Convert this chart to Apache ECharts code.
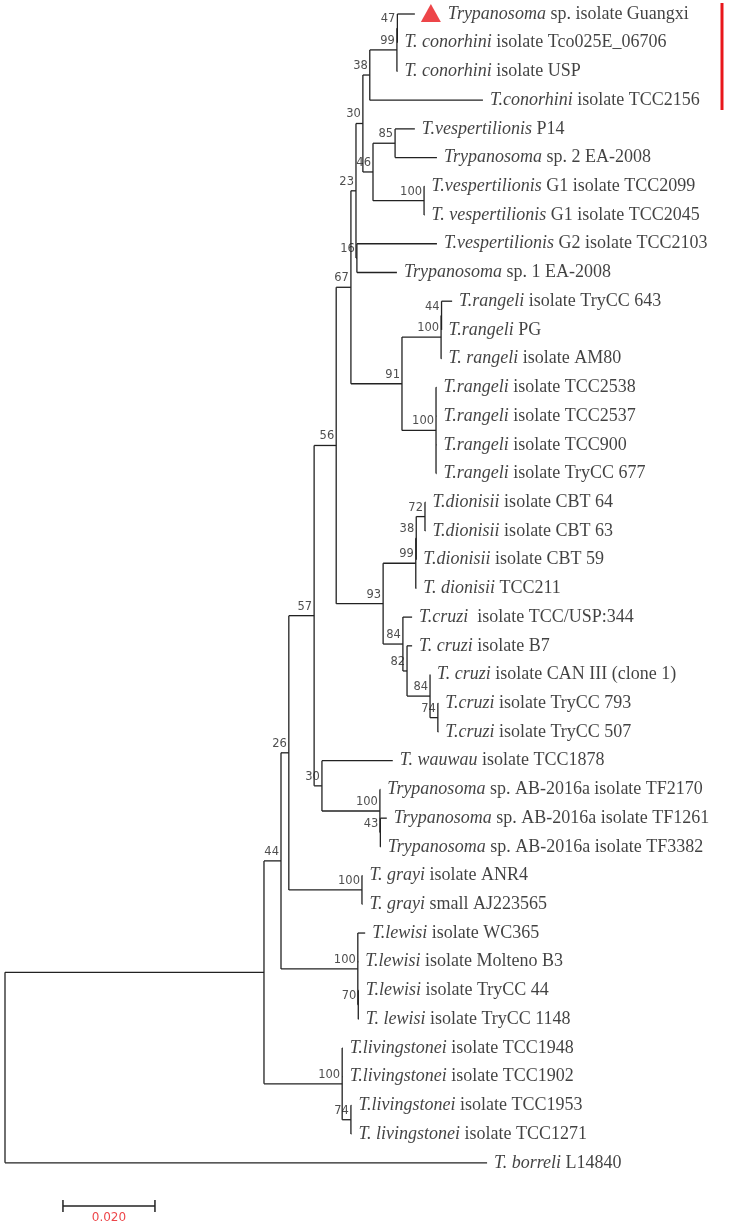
<!DOCTYPE html>
<html><head><meta charset="utf-8">
<script src="https://cdn.jsdelivr.net/npm/echarts@6/dist/echarts.min.js"></script>
<style>html,body{margin:0;padding:0;background:#fff}#c{width:730px;height:1228px}</style>
</head><body><div id="c"></div>
<script>
// Leaf labels (italic part, plain part) and cumulative distance from root
const leafItalic = ['Trypanosoma','T. conorhini','T. conorhini','T.conorhini','T.vespertilionis','Trypanosoma','T.vespertilionis','T. vespertilionis','T.vespertilionis','Trypanosoma',
 'T.rangeli','T.rangeli','T. rangeli','T.rangeli','T.rangeli','T.rangeli','T.rangeli',
 'T.dionisii','T.dionisii','T.dionisii','T. dionisii','T.cruzi ','T. cruzi','T. cruzi','T.cruzi','T.cruzi',
 'T. wauwau','Trypanosoma','Trypanosoma','Trypanosoma','T. grayi','T. grayi',
 'T.lewisi','T.lewisi','T.lewisi','T. lewisi','T.livingstonei','T.livingstonei','T.livingstonei','T. livingstonei','T. borreli'];
const leafPlain = ['sp. isolate Guangxi','isolate Tco025E_06706','isolate USP','isolate TCC2156','P14','sp. 2 EA-2008','G1 isolate TCC2099','G1 isolate TCC2045','G2 isolate TCC2103','sp. 1 EA-2008',
 'isolate TryCC 643','PG','isolate AM80','isolate TCC2538','isolate TCC2537','isolate TCC900','isolate TryCC 677',
 'isolate CBT 64','isolate CBT 63','isolate CBT 59','TCC211','isolate TCC/USP:344','isolate B7','isolate CAN III (clone 1)','isolate TryCC 793','isolate TryCC 507',
 'isolate TCC1878','sp. AB-2016a isolate TF2170','sp. AB-2016a isolate TF1261','sp. AB-2016a isolate TF3382','isolate ANR4','small AJ223565',
 'isolate WC365','isolate Molteno B3','isolate TryCC 44','isolate TryCC 1148','isolate TCC1948','isolate TCC1902','isolate TCC1953','isolate TCC1271','L14840'];
const leafDist = [0.0891,0.0853,0.0853,0.1039,0.0891,0.0939,0.0912,0.0912,0.0939,0.0852,
 0.0972,0.0949,0.0949,0.0938,0.0938,0.0938,0.0938,
 0.0914,0.0914,0.0894,0.0894,0.0885,0.0885,0.0924,0.0942,0.0942,
 0.0843,0.0816,0.0830,0.0817,0.0777,0.0777,
 0.0783,0.0768,0.0769,0.0769,0.0734,0.0734,0.0753,0.0753,0.1048];
// Internal nodes: id, distance from root, children, bootstrap support
const nodeIds      = ['N47','N99','N38','N85','NG1','Nv','N30','N16','N46','R1a','R1','R2','Rang','X67','N72','N38d','N99d','N74','N84b','N82','N84a','N93','N67','AB2','AB','N30b','N56','Gray','N57','Lew2','Lew','N26','Liv2','Liv','N44','root'];
const nodeDist     = [0.0853,0.0852,0.0793,0.0848,0.0911,0.0800,0.0778,0.0765,0.0763,0.0949,0.0948,0.0937,0.0863,0.0752,0.0913,0.0894,0.0893,0.0941,0.0924,0.0874,0.0865,0.0822,0.0720,0.0816,0.0815,0.0689,0.0672,0.0776,0.0617,0.0768,0.0767,0.0600,0.0752,0.0733,0.0563,0];
const nodeChildren = [['L0','L1'],['N47','L2'],['N99','L3'],['L4','L5'],['L6','L7'],['N85','NG1'],['N38','Nv'],['L8','L9'],['N30','N16'],['L10','L11'],['R1a','L12'],['L13','L14','L15','L16'],['R1','R2'],['N46','Rang'],
 ['L17','L18'],['N72','L19'],['N38d','L20'],['L24','L25'],['L23','N74'],['L22','N84b'],['L21','N82'],['N99d','N84a'],['X67','N93'],
 ['L28','L29'],['L27','AB2'],['L26','AB'],['N67','N30b'],['L30','L31'],['N56','Gray'],['L34','L35'],['L32','L33','Lew2'],['N57','Lew'],['L38','L39'],['L36','L37','Liv2'],['N26','Liv'],['N44','L40']];
const nodeSupport  = ['47','99','38','85','100','46','30','16','23','44','100','100','91','67','72','38','99','74','84','82','84','93','56','43','100','30','57','100','26','70','100','44','74','100','',''];
const scaleStart = 0.0126, scaleLen = 0.020, scaleText = '0.020';

const pos = {};
leafDist.forEach((d,i)=>{pos['L'+i]=[d,i];});
const idx = {}; nodeIds.forEach((id,i)=>idx[id]=i);
function place(id){
  if(pos[id]) return pos[id];
  const i=idx[id], ch=nodeChildren[i].map(place);
  pos[id]=[nodeDist[i],(ch[0][1]+ch[ch.length-1][1])/2];
  return pos[id];
}
nodeIds.forEach(place);
const segs=[];
nodeIds.forEach((id,i)=>{
  const p=pos[id], ch=nodeChildren[i].map(c=>pos[c]);
  segs.push({coords:[[p[0],ch[0][1]],[p[0],ch[ch.length-1][1]]]});
  ch.forEach(c=>segs.push({coords:[[p[0],c[1]],[c[0],c[1]]]}));
});
const PX=4600, ROW=28.72;
const yBar=(1206-14)/ROW, tick=6/ROW;
const scaleSegs=[{coords:[[scaleStart,yBar],[scaleStart+scaleLen,yBar]]},
 {coords:[[scaleStart,yBar-tick],[scaleStart,yBar+tick]]},
 {coords:[[scaleStart+scaleLen,yBar-tick],[scaleStart+scaleLen,yBar+tick]]}];

const SERIF="'Liberation Serif', 'Times New Roman', serif";
const leafData=leafDist.map((d,i)=>({value:[d,i],label:{distance:i===0?33:7,
  formatter:'{i|'+leafItalic[i]+'}{n| '+leafPlain[i]+'}'}}));
const supData=nodeIds.map((id,i)=>({value:pos[id],name:nodeSupport[i]})).filter(d=>d.name);

const chart=echarts.init(document.getElementById('c'),null,{renderer:'canvas'});
chart.setOption({
  animation:false,
  grid:{left:0,right:0,top:0,bottom:0},
  xAxis:{type:'value',min:-5/PX,max:725/PX,show:false},
  yAxis:{type:'value',min:-14/ROW,max:(1228-14)/ROW,inverse:true,show:false},
  series:[
    {type:'lines',coordinateSystem:'cartesian2d',polyline:true,data:segs,lineStyle:{color:'#222',width:1.3,opacity:1},silent:true},
    {type:'lines',coordinateSystem:'cartesian2d',polyline:true,data:scaleSegs,lineStyle:{color:'#222',width:1.5,opacity:1},silent:true},
    {type:'scatter',symbolSize:0,data:leafData,label:{show:true,position:'right',fontFamily:SERIF,fontSize:18,
      rich:{i:{fontFamily:SERIF,fontStyle:'italic',fontSize:18,color:'#111'},
            n:{fontFamily:SERIF,fontSize:18,color:'#111'}}}},
    {type:'scatter',symbolSize:0,data:supData,label:{show:true,position:'left',distance:2,offset:[0,-9],
      formatter:p=>p.name,fontFamily:'DejaVu Sans',fontSize:11.5,color:'#222'}},
    {type:'scatter',symbol:'triangle',symbolSize:[20,18],symbolOffset:[16,-1],data:[[leafDist[0],0]],itemStyle:{color:'#e8161b'}},
    {type:'scatter',symbolSize:0,data:[[scaleStart+scaleLen/2,yBar]],label:{show:true,position:'bottom',distance:6,
      formatter:scaleText,fontFamily:'DejaVu Sans',fontSize:12,color:'#e8161b'}}
  ],
  graphic:[{type:'line',shape:{x1:722,y1:3,x2:722,y2:110},style:{stroke:'#e8161b',lineWidth:3}}]
});
</script></body></html>
